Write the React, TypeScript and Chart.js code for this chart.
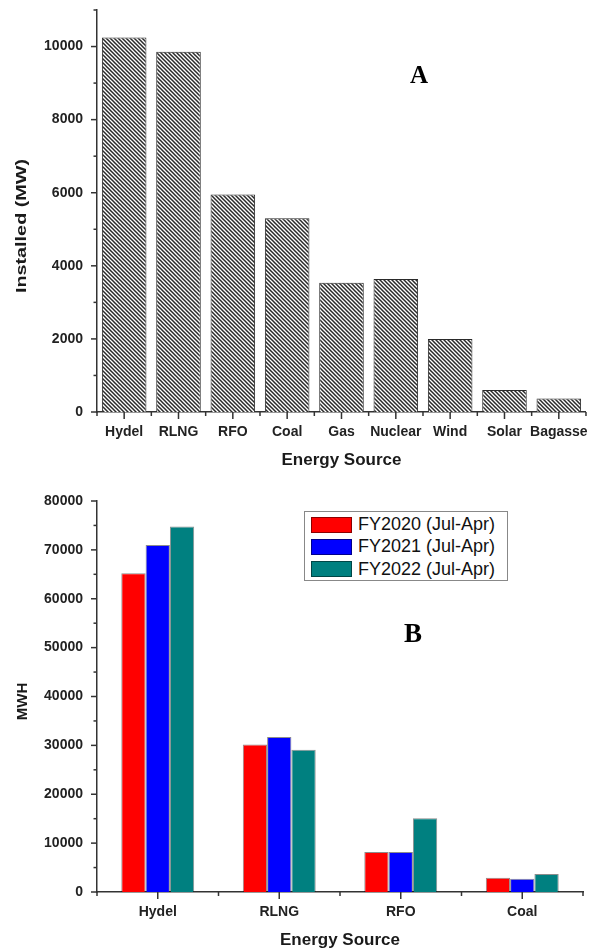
import React, { useEffect, useRef } from 'react';
import { Chart, registerables } from 'chart.js';
Chart.register(...registerables);

// ---------- Data: chart A (installed capacity) ----------
const sourcesA = ['Hydel', 'RLNG', 'RFO', 'Coal', 'Gas', 'Nuclear', 'Wind', 'Solar', 'Bagasse'];
const installedMW = [10250, 9860, 5950, 5300, 3540, 3640, 2000, 600, 370];
const yMaxA = 11000;
const yMajorA = 2000;
const yMinorA = 1000;

// ---------- Data: chart B (generation) ----------
const sourcesB = ['Hydel', 'RLNG', 'RFO', 'Coal'];
const fy2020 = [65200, 30200, 8200, 2900];
const fy2021 = [71000, 31700, 8200, 2700];
const fy2022 = [74800, 29100, 15100, 3700];
const seriesLabels = ['FY2020 (Jul-Apr)', 'FY2021 (Jul-Apr)', 'FY2022 (Jul-Apr)'];
const seriesColors = ['#FF0000', '#0000FF', '#008080'];
const yMaxB = 80000;
const yMajorB = 10000;
const yMinorB = 5000;

const SANS = '"Liberation Sans", Arial, sans-serif';
const SERIF = '"Liberation Serif", "Times New Roman", serif';
const AXIS = '#333';

// Draws major/minor tick marks from the scales
const axisTicks = {
  id: 'axisTicks',
  afterDraw(chart: any, _a: any, opts: any) {
    const { ctx } = chart;
    const x = chart.scales.x;
    const y = chart.scales.y;
    ctx.save();
    ctx.strokeStyle = AXIS;
    ctx.lineWidth = 1.5;
    for (let v = y.min; v <= y.max + 1e-6; v += opts.yMinor) {
      const py = y.getPixelForValue(v);
      const major = Math.abs(v % opts.yMajor) < 1e-6;
      const len = major ? 6 : 3.5;
      ctx.beginPath();
      ctx.moveTo(y.right, py);
      ctx.lineTo(y.right - len, py);
      ctx.stroke();
    }
    const n = x.getLabels().length;
    const base = chart.chartArea.bottom;
    for (let i = 0; i < n; i++) {
      const px = x.getPixelForValue(i);
      ctx.beginPath();
      ctx.moveTo(px, base);
      ctx.lineTo(px, base + 7);
      ctx.stroke();
    }
    for (let i = 0; i <= n; i++) {
      const px = x.getPixelForValue(i - 0.5);
      ctx.beginPath();
      ctx.moveTo(px, base);
      ctx.lineTo(px, base + 4);
      ctx.stroke();
    }
    ctx.restore();
  },
};

// Axis titles
const axisTitleText = {
  id: 'axisTitleText',
  afterDraw(chart: any, _a: any, opts: any) {
    const { ctx, chartArea } = chart;
    ctx.save();
    ctx.fillStyle = '#1a1a1a';
    ctx.textAlign = 'center';
    ctx.textBaseline = 'middle';
    if (opts.x) {
      ctx.font = opts.x.font;
      ctx.fillText(opts.x.text, (chartArea.left + chartArea.right) / 2 + (opts.x.dx || 0), opts.x.y);
    }
    if (opts.y) {
      ctx.font = opts.y.font;
      ctx.translate(opts.y.x, (chartArea.top + chartArea.bottom) / 2 + (opts.y.dy || 0));
      ctx.rotate(-Math.PI / 2);
      ctx.scale(opts.y.stretch || 1, 1);
      ctx.fillText(opts.y.text, 0, 0);
    }
    ctx.restore();
  },
};

function makeHatch(ctx: CanvasRenderingContext2D) {
  const c = document.createElement('canvas');
  const s = 4;
  c.width = s;
  c.height = s;
  const g = c.getContext('2d')!;
  g.fillStyle = '#ffffff';
  g.fillRect(0, 0, s, s);
  g.strokeStyle = '#2a2a2a';
  g.lineWidth = 1.5;
  g.beginPath();
  g.moveTo(-1, -1);
  g.lineTo(s + 1, s + 1);
  g.moveTo(-1, s - 1);
  g.lineTo(1, s + 1);
  g.moveTo(s - 1, -1);
  g.lineTo(s + 1, 1);
  g.stroke();
  return ctx.createPattern(c, 'repeat');
}

const tickFont = { family: SANS, size: 14, weight: 'bold' as const };

const fitY = (s: any) => {
  s.width = 97;
  s.paddingTop = 0;
  s.paddingBottom = 0;
};

export default function App() {
  const refA = useRef<HTMLCanvasElement>(null);
  const refB = useRef<HTMLCanvasElement>(null);

  useEffect(() => {
    const ctxA = refA.current!.getContext('2d')!;
    const hatch = makeHatch(ctxA);
    const chartA = new Chart(ctxA, {
      type: 'bar',
      data: {
        labels: sourcesA,
        datasets: [
          {
            data: installedMW,
            backgroundColor: hatch as any,
            borderColor: '#2a2a2a',
            borderWidth: 1,
            barPercentage: 0.82,
            categoryPercentage: 1,
          },
        ],
      },
      options: {
        animation: false,
        responsive: false,
        layout: { padding: { top: 10, right: 7, left: 0, bottom: 0 } },
        plugins: {
          legend: { display: false },
          tooltip: { enabled: false },
          axisTicks: { yMajor: yMajorA, yMinor: yMinorA },
          axisTitleText: {
            x: { text: 'Energy Source', font: `bold 17px ${SANS}`, y: 460 },
            y: { text: 'Installed (MW)', font: `bold 15px ${SANS}`, x: 22, dy: 15, stretch: 1.32 },
          },
        } as any,
        scales: {
          x: {
            grid: { display: false, drawTicks: false },
            border: { display: true, color: AXIS, width: 1.5 },
            ticks: { font: tickFont, color: '#222', padding: 12, maxRotation: 0, autoSkip: false },
            afterFit: (s: any) => { s.height = 63; },
          },
          y: {
            min: 0,
            max: yMaxA,
            grid: { display: false, drawTicks: false },
            border: { display: true, color: AXIS, width: 1.5 },
            ticks: {
              stepSize: yMinorA,
              autoSkip: false,
              font: tickFont,
              color: '#222',
              padding: 14,
              callback: (v: any) => (Math.round(Number(v)) % yMajorA === 0 ? String(Math.round(Number(v))) : ''),
            },
            afterFit: fitY,
          },
        },
      },
      plugins: [axisTicks, axisTitleText],
    } as any);

    const ctxB = refB.current!.getContext('2d')!;
    const seriesB = [fy2020, fy2021, fy2022];
    const chartB = new Chart(ctxB, {
      type: 'bar',
      data: {
        labels: sourcesB,
        datasets: seriesB.map((d, i) => ({
          label: seriesLabels[i],
          data: d,
          backgroundColor: seriesColors[i],
          borderColor: 'rgba(0,0,0,0.45)',
          borderWidth: 1,
          barPercentage: 1,
          categoryPercentage: 0.6,
        })),
      },
      options: {
        animation: false,
        responsive: false,
        layout: { padding: { top: 26, right: 17, left: 0, bottom: 0 } },
        plugins: {
          legend: { display: false },
          tooltip: { enabled: false },
          axisTicks: { yMajor: yMajorB, yMinor: yMinorB },
          axisTitleText: {
            x: { text: 'Energy Source', font: `bold 17px ${SANS}`, y: 465 },
            y: { text: 'MWH', font: `bold 15px ${SANS}`, x: 22.5, dy: 5, stretch: 1 },
          },
        } as any,
        scales: {
          x: {
            grid: { display: false, drawTicks: false },
            border: { display: true, color: AXIS, width: 1.5 },
            ticks: { font: tickFont, color: '#222', padding: 12, maxRotation: 0, autoSkip: false },
            afterFit: (s: any) => { s.height = 59; },
          },
          y: {
            min: 0,
            max: yMaxB,
            grid: { display: false, drawTicks: false },
            border: { display: true, color: AXIS, width: 1.5 },
            ticks: {
              stepSize: yMajorB,
              autoSkip: false,
              font: tickFont,
              color: '#222',
              padding: 14,
              callback: (v: any) => String(v),
            },
            afterFit: fitY,
          },
        },
      },
      plugins: [axisTicks, axisTitleText],
    } as any);

    return () => {
      chartA.destroy();
      chartB.destroy();
    };
  }, []);

  return (
    <div style={{ position: 'absolute', left: 0, top: 0, width: 600, height: 951, background: '#fff', fontFamily: SANS }}>
      <canvas ref={refA} width={600} height={475} style={{ position: 'absolute', left: 0, top: 0, width: 600, height: 475 }} />
      <canvas ref={refB} width={600} height={476} style={{ position: 'absolute', left: 0, top: 475, width: 600, height: 476 }} />
      <div
        style={{
          position: 'absolute', left: 419, top: 74, transform: 'translate(-50%, -50%)',
          font: `bold 25px ${SERIF}`, lineHeight: 1, color: '#000',
        }}
      >
        A
      </div>
      <div
        style={{
          position: 'absolute', left: 413, top: 633, transform: 'translate(-50%, -50%)',
          font: `bold 27px ${SERIF}`, lineHeight: 1, color: '#000',
        }}
      >
        B
      </div>
      <div
        style={{
          position: 'absolute', left: 304, top: 511, width: 204, height: 70, boxSizing: 'border-box',
          border: '1px solid #888', background: '#fff',
        }}
      >
        {seriesLabels.map((lab, i) => (
          <div
            key={lab}
            style={{
              position: 'absolute', left: 6, top: 1.5 + i * 22.3, height: 22.3, display: 'flex', alignItems: 'center',
            }}
          >
            <div
              style={{
                width: 41, height: 16, boxSizing: 'border-box', background: seriesColors[i],
                border: '1px solid rgba(0,0,0,0.45)', marginRight: 6, flex: 'none',
              }}
            />
            <span style={{ font: `18px ${SANS}`, color: '#111', whiteSpace: 'nowrap' }}>{lab}</span>
          </div>
        ))}
      </div>
    </div>
  );
}
